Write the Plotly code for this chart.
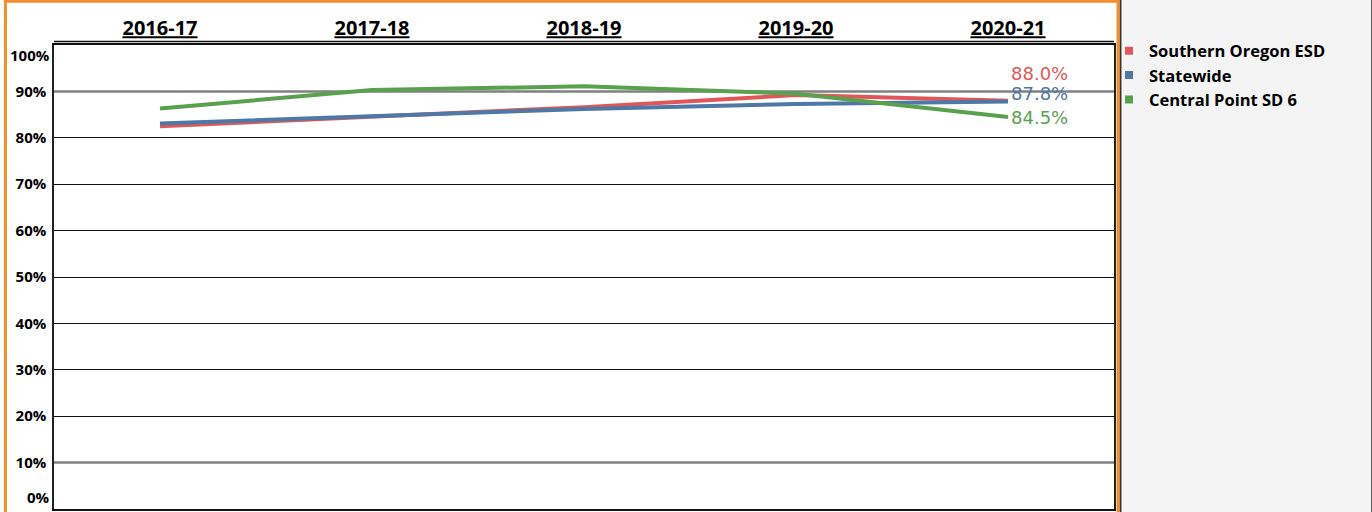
import plotly.graph_objects as go

years = ["2016-17", "2017-18", "2018-19", "2019-20", "2020-21"]
southern_oregon = [0.825, 0.846, 0.866, 0.892, 0.880]
statewide = [0.831, 0.846, 0.862, 0.873, 0.878]
central_point = [0.863, 0.903, 0.911, 0.895, 0.845]

series_names = ["Southern Oregon ESD", "Statewide", "Central Point SD 6"]
series_values = [southern_oregon, statewide, central_point]
series_colors = ["#E15759", "#4E79A7", "#59A14F"]
label_shift = [27, 8, -1]

y_ticks = [0.1, 0.2, 0.3, 0.4, 0.5, 0.6, 0.7, 0.8, 0.9]
black_grid = [0.2, 0.3, 0.4, 0.5, 0.6, 0.7, 0.8]
gray_grid = [0.1, 0.9]

FONT = "Open Sans"

fig = go.Figure()

for name, vals, col in zip(series_names, series_values, series_colors):
    fig.add_trace(go.Scatter(
        x=years, y=vals, mode="lines", name=name,
        line=dict(color=col, width=4), showlegend=False,
        hoverinfo="skip",
    ))

for name, col in zip(series_names, series_colors):
    fig.add_trace(go.Scatter(
        x=[None], y=[None], mode="markers", name=name,
        marker=dict(symbol="square", size=8, color=col),
        showlegend=True,
    ))

annotations = []
for vals, col, sh in zip(series_values, series_colors, label_shift):
    annotations.append(dict(
        x=years[-1], y=vals[-1], xref="x", yref="y",
        text=f"{vals[-1]*100:.1f}%", showarrow=False,
        xanchor="left", yanchor="middle", xshift=1, yshift=sh,
        font=dict(family="DejaVu Sans", size=18, color=col),
    ))

# end tick labels (0% and 100%) kept inside the pane
annotations.append(dict(x=0, y=0, xref="paper", yref="y", text="<b>0%</b>",
                        showarrow=False, xanchor="right", yanchor="bottom",
                        xshift=-2, yshift=0,
                        font=dict(family=FONT, size=15, color="#000")))
annotations.append(dict(x=0, y=1, xref="paper", yref="y", text="<b>100%</b>",
                        showarrow=False, xanchor="right", yanchor="top",
                        xshift=-2, yshift=2,
                        font=dict(family=FONT, size=15, color="#000")))

shapes = [
    # legend panel
    dict(type="rect", xref="paper", yref="paper", x0=1.0061, x1=1.2436,
         y0=-0.01, y1=1.12, fillcolor="#f4f4f4",
         line=dict(color="#333", width=2), layer="below"),
    # header separator line
    dict(type="line", xref="paper", yref="paper", x0=0, x1=1,
         y0=1.0075, y1=1.0075, line=dict(color="#111", width=1.5)),
    # orange frame
    dict(type="rect", xref="paper", yref="paper", x0=-0.0458, x1=1.0038,
         y0=-0.02, y1=1.0944, line=dict(color="#F28E2B", width=3),
         fillcolor="rgba(0,0,0,0)"),
]
for g in gray_grid:
    shapes.append(dict(type="line", xref="paper", yref="y", x0=0, x1=1,
                       y0=g, y1=g, line=dict(color="#808080", width=2.5),
                       layer="below"))

fig.update_layout(
    width=1372, height=512,
    margin=dict(l=54, r=258, t=45, b=1),
    paper_bgcolor="white", plot_bgcolor="white",
    font=dict(family=FONT, color="#000"),
    showlegend=True,
    legend=dict(x=0.9953, y=1.025, xanchor="left", yanchor="top",
                bgcolor="rgba(0,0,0,0)",
                font=dict(family=FONT, size=16.5, color="#000", weight="bold"),
                tracegroupgap=0, itemwidth=30),
    annotations=annotations,
    shapes=shapes,
    xaxis=dict(
        type="category", categoryorder="array", categoryarray=years,
        range=[-0.5, 4.5], side="top", showgrid=False, zeroline=False,
        tickmode="array", tickvals=years,
        ticktext=[f"<b><u>{y}</u></b>" for y in years],
        tickfont=dict(family=FONT, size=20, color="#000"),
        ticks="", ticklabelstandoff=0,
        showline=True, linecolor="#111", linewidth=1.5, mirror=True,
    ),
    yaxis=dict(
        range=[0, 1], tickmode="array", tickvals=y_ticks,
        ticktext=[f"<b>{int(round(v*100))}%</b>" for v in y_ticks],
        tickfont=dict(family=FONT, size=15, color="#000"),
        showgrid=False, zeroline=False,
        minor=dict(tickmode="array", tickvals=black_grid, showgrid=True,
                   gridcolor="#111", gridwidth=1, ticks=""),
        ticks="", ticklabelstandoff=3,
        showline=True, linecolor="#222", linewidth=1.5, mirror=True,
    ),
)

fig.write_html("out.html",
               config={"displayModeBar": False},
               post_script="document.body.style.margin='0';"
                           "document.body.style.padding='0';"
                           "document.body.style.overflow='hidden';")
